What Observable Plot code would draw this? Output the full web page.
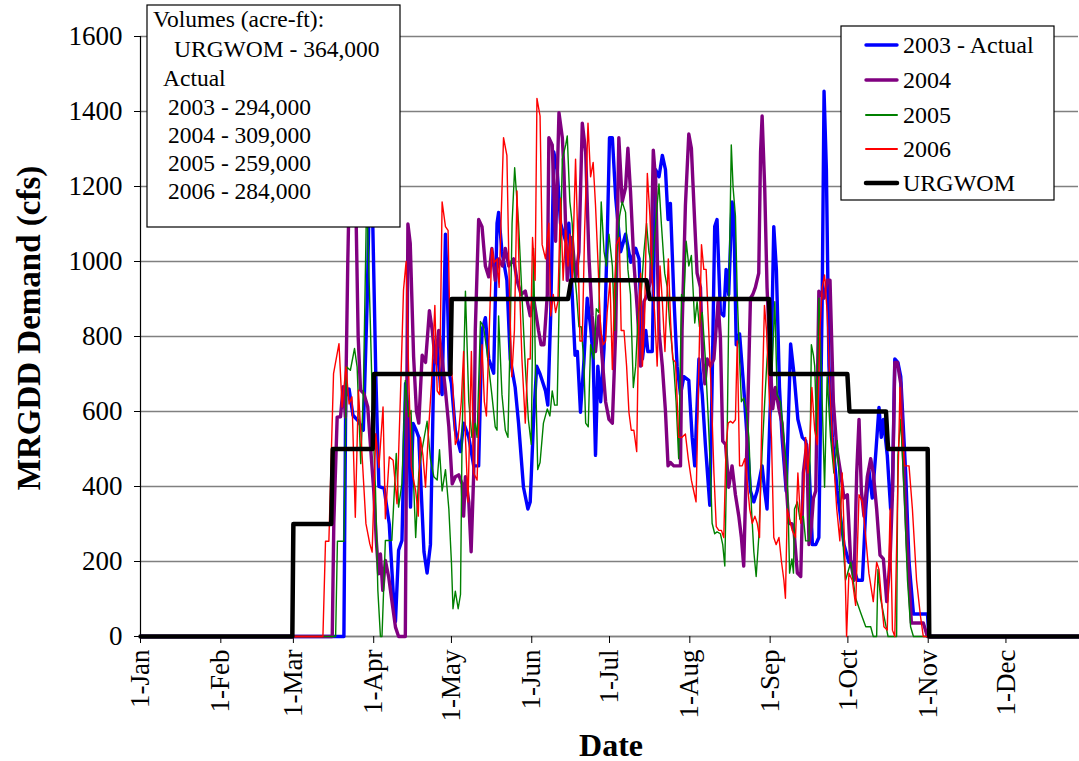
<!DOCTYPE html>
<html><head><meta charset="utf-8">
<script src="https://cdn.jsdelivr.net/npm/d3@7"></script>
<script src="https://cdn.jsdelivr.net/npm/@observablehq/plot@0.6"></script>
<style>body{margin:0;background:#fff;}</style>
</head><body><div id="chart"></div>
<script>
// ---- tick labels / categories ----
const monthDays = [0,31,59,90,120,151,181,212,243,273,304,334];
const monthLabels = ["1-Jan","1-Feb","1-Mar","1-Apr","1-May","1-Jun","1-Jul","1-Aug","1-Sep","1-Oct","1-Nov","1-Dec"];
const yTicks = [0,200,400,600,800,1000,1200,1400,1600];
const seriesNames = ["2003 - Actual","2004","2005","2006","URGWOM"];
const volumeLines = ["Volumes (acre-ft):","URGWOM - 364,000","Actual","2003 - 294,000","2004 - 309,000","2005 - 259,000","2006 - 284,000"];

// ---- series values: [day of year (0 = 1-Jan), cfs] ----
const s2003 = [[0,0],[77,0],[78.5,0],[79.2,640],[80.5,660],[82,590],[84,575],[86,550],[87.5,900],[88.5,1250],[89.5,1150],[90.8,700],[92,400],[94,395],[96,300],[97.5,120],[98.4,40],[99.6,230],[100.9,256],[102.3,675],[103.5,586],[104.2,345],[105.2,568],[106.4,550],[107.4,531],[109.4,226],[110.6,169],[111.9,245],[113.2,721],[114.5,778],[115.8,664],[116.4,645],[117.7,1073],[118.3,950],[119.2,702],[120,674],[121.5,550],[123.5,493],[124.7,569],[126.7,531],[128.6,455],[130.5,455],[131.8,816],[133.1,850],[134.4,740],[136.3,702],[137.6,1102],[138.2,1131],[139.5,1026],[141.4,950],[142.7,740],[144.6,664],[145.9,569],[147.8,398],[149.5,340],[150.4,359],[151.7,578],[152.9,721],[154.2,700],[156.3,655],[157.2,617],[158.3,855],[159.5,1292],[160.8,1245],[162.1,1102],[164.1,1054],[165.3,1102],[166.6,912],[167.7,750],[168.6,760],[169.8,598],[171.1,731],[172.4,902],[173.7,826],[174.7,740],[175.6,483],[176.5,721],[177.6,626],[178.9,769],[180.1,1054],[181,1330],[182.1,1330],[183.4,1169],[185.3,1026],[187.2,1073],[189.2,998],[191.1,1035],[192.4,1007],[193.7,740],[195,816],[195.8,760],[197.5,760],[198.8,1245],[200.1,1226],[201.4,1283],[202.6,1245],[203.6,1112],[204.5,1155],[205.8,912],[207.1,721],[208.4,645],[209.7,693],[211.6,683],[212.9,531],[213.9,455],[215.5,740],[216.8,645],[218,512],[219.7,350],[220.6,674],[221.6,1093],[222.5,1112],[223.8,864],[225.1,855],[226,979],[227,912],[228.3,1159],[229,1121],[229.9,778],[231.2,807],[232.8,664],[234.1,531],[235.4,388],[236.7,359],[238,388],[239.9,455],[240.9,388],[241.8,340],[243.1,626],[244.4,1093],[245.4,979],[246.6,664],[247.6,531],[249.2,388],[250.9,780],[252.2,700],[253.7,579],[255.4,531],[256.7,522],[258,455],[259.3,245],[260.6,245],[261.8,264],[263.1,912],[263.8,1454],[264.7,1245],[265.7,721],[267,531],[268.9,388],[271.5,245],[273.4,198],[274.7,198],[276.6,150],[278.6,150],[279.9,340],[281.1,445],[282.4,369],[283.7,483],[285,611],[285.9,531],[286.7,579],[288.2,483],[289.5,340],[290.2,388],[291.1,740],[292.3,731],[293.4,693],[295.3,436],[296.6,198],[298.3,60],[303.7,60],[304.3,0],[362,0]];

const s2004 = [[0,0],[74,0],[74.6,300],[75.9,585],[77.2,586],[78.2,666],[79.1,586],[80,1000],[81,1350],[82,1380],[83,1200],[84,800],[84.9,657],[86.2,648],[87.7,612],[88.7,514],[90,390],[91,256],[91.9,167],[92.6,220],[93.5,123],[94.5,203],[95.8,158],[97,96],[98.4,25],[99.6,0],[102.2,0],[103.2,1100],[104.1,1048],[105.4,746],[106.5,600],[107.4,569],[108.7,750],[110,731],[111.5,869],[112.6,816],[113.8,731],[115.1,816],[116.4,740],[117.7,655],[119,559],[120.3,407],[121.5,426],[122.8,431],[124.1,407],[124.7,321],[125.4,426],[126.7,359],[127.6,226],[128.6,436],[129.2,816],[130.5,1112],[131.8,1093],[133.1,988],[134.4,959],[135.6,1035],[136.9,950],[138.2,1007],[139.7,988],[140.8,1035],[142.1,988],[144,1007],[145.3,950],[146.9,912],[148.5,921],[150.4,855],[151.7,902],[153.6,816],[154.6,778],[155.7,778],[157,912],[157.6,1330],[158.9,1311],[160.2,1054],[161.5,1397],[162.8,1330],[163.4,1245],[164.7,950],[165.6,1026],[166.6,1064],[167.9,950],[169.2,1026],[170.5,1369],[171.8,1292],[173.1,1007],[174.3,855],[175.6,760],[176.9,855],[178.2,740],[179.5,626],[180.8,579],[182.1,569],[183.4,816],[184.6,1330],[185.9,1159],[187.2,1197],[188.1,1302],[189.1,1188],[190.4,998],[191.7,874],[193,721],[194.3,893],[195.6,912],[196.9,950],[197.9,1297],[198.8,1216],[200.1,816],[201.4,721],[202.6,600],[203.6,455],[204.5,464],[205.8,455],[208.4,455],[209,816],[210.3,1150],[211.6,1340],[212.6,1302],[213.9,1102],[214.8,969],[216.1,931],[217,740],[217.8,674],[218.7,740],[220,721],[221.3,740],[222.9,893],[223.8,797],[224.7,521],[225.8,512],[227,398],[228.3,455],[229.6,378],[230.9,321],[231.9,264],[232.8,188],[234.1,531],[235.4,902],[236.3,912],[237.3,931],[238.6,969],[239.3,1292],[239.9,1388],[240.9,1197],[241.8,931],[243.1,721],[244,607],[245,664],[246.4,607],[247.6,569],[248.9,436],[250.2,302],[251.5,300],[252.2,283],[253.5,169],[254.8,160],[255.8,436],[257.1,512],[258,245],[258.9,293],[259.7,369],[260.6,388],[261.8,921],[262.7,912],[263.8,902],[265,950],[266.1,950],[267.4,626],[268.7,502],[270.2,436],[271.5,369],[272.8,378],[274.1,198],[275.4,150],[276.4,436],[277.3,579],[278.2,388],[279.2,321],[280.5,426],[281.8,474],[282.8,436],[284.1,340],[285.4,217],[286.7,207],[288,93],[289.3,207],[290.2,378],[291.1,731],[292.1,731],[293.4,674],[294.7,436],[295.9,245],[297.5,36],[302.1,36],[303.7,0],[362,0]];

const s2005 = [[0,0],[75.3,0],[76,254],[78.5,254],[79.5,719],[81,710],[82.6,768],[83.6,719],[85,461],[86,650],[87.3,1180],[88.7,835],[89.7,568],[90.7,390],[91.6,123],[92.6,0],[93.2,0],[94.5,256],[97,256],[98.7,488],[99.6,345],[100.9,408],[102.2,683],[103.5,586],[104.4,603],[105.4,408],[106.2,264],[107.4,436],[108.7,500],[110.6,574],[111.9,474],[113.2,426],[114.5,417],[115.4,498],[116.4,388],[117.7,445],[119,340],[120,198],[120.6,74],[121.5,121],[122.6,74],[123.5,112],[124.1,531],[125.4,921],[126.7,626],[127.9,531],[129.2,569],[129.9,531],[131.2,840],[132.4,826],[133.7,760],[135.6,645],[136.9,559],[137.6,550],[138.2,855],[139.5,645],[140.8,550],[141.8,531],[142.7,816],[143.4,1102],[144.4,1250],[145.9,1102],[147.2,912],[148.5,721],[149.7,578],[150.8,512],[151.7,1035],[152.4,721],[153.3,445],[154.2,464],[155.5,569],[157,607],[158,588],[158.9,655],[159.8,617],[160.8,617],[161.9,1007],[162.8,1273],[164.1,1311],[164.7,1335],[165.7,1159],[166.6,1102],[167.3,988],[168.3,912],[169.2,826],[170.1,826],[171.1,731],[171.8,569],[172.8,559],[173.7,778],[175,740],[175.9,874],[176.9,864],[177.8,1159],[178.9,1026],[179.8,988],[180.8,1073],[182.1,988],[183,816],[183.7,1007],[184.9,1121],[185.9,1159],[187.2,1131],[188.1,979],[189.1,912],[190.2,664],[191.1,721],[192.1,864],[193,893],[194.3,1026],[195.3,1102],[196.2,1026],[197.5,979],[198.8,1102],[200.1,1207],[201,1102],[202.3,969],[203.3,931],[204.2,836],[205.8,721],[206.7,626],[207.7,474],[208.8,912],[209.7,893],[210.6,1054],[211.6,988],[212.6,1016],[213.9,836],[214.8,893],[215.7,826],[216.8,864],[218,740],[219,598],[220,436],[220.6,302],[221.6,274],[222.5,279],[223.8,274],[224.7,245],[225.5,188],[226.4,531],[227.3,1007],[228,1311],[228.7,1197],[229.6,1121],[230.3,912],[231.2,740],[231.9,626],[232.8,636],[233.7,607],[234.8,531],[235.8,340],[236.7,226],[237.6,160],[238.6,264],[239.9,493],[240.9,626],[241.8,740],[242.9,816],[243.8,721],[244.8,893],[245.7,645],[247,626],[248.3,531],[249.6,436],[250.5,169],[251.4,207],[252,169],[252.4,340],[253.5,359],[254.5,312],[255.8,321],[256.7,255],[258,255],[258.9,778],[259.7,750],[260.2,721],[261,531],[261.8,902],[262.7,721],[264,398],[265,693],[266.3,531],[267.6,436],[268.9,522],[270.2,340],[272.1,150],[274.1,198],[276,102],[277.9,64],[279.9,26],[281.8,26],[282.8,0],[284.1,0],[284.6,179],[285.6,102],[286.9,55],[288.5,0],[291.8,0],[292.3,483],[293.4,579],[294.7,388],[296,150],[297.2,26],[298.3,0],[362,0]];

const s2006 = [[0,0],[70.4,0],[71.4,254],[72.7,254],[73.5,452],[74.5,701],[76.6,781],[77.8,612],[79.3,719],[80.5,620],[81.6,639],[82.9,318],[84.1,657],[85.4,497],[87,301],[88.5,247],[89.4,225],[90.8,541],[92,450],[93.6,612],[94.5,314],[96,479],[97.5,470],[99,354],[100.3,639],[101.5,924],[102.5,1000],[103.5,700],[104.5,453],[105.3,420],[106.2,388],[107.2,321],[108,531],[109,483],[110,398],[111,531],[112.3,674],[113.6,883],[114.5,655],[115.4,645],[116.4,1159],[117.7,1093],[118.7,1083],[119.6,750],[120.5,674],[121.5,512],[122.6,531],[123.8,626],[124.7,760],[125.4,531],[126.4,359],[127.7,760],[128.6,436],[129.9,417],[130.8,626],[131.8,778],[132.7,626],[133.5,588],[134.6,816],[135.6,1035],[136.5,997],[137.6,1007],[138.4,931],[139.2,1121],[140.1,1330],[141.4,1283],[142.4,912],[143.3,693],[144.3,816],[145.3,1188],[146.3,931],[147.2,740],[148.5,569],[149.5,740],[150.4,740],[151.3,1064],[152.3,950],[153,1435],[154.2,1388],[155,1045],[156.3,1007],[157.6,1102],[158.3,855],[159.3,912],[160.2,864],[161.1,893],[162.1,1169],[163.1,950],[164.1,1083],[165,988],[165.7,1073],[166.6,950],[167.9,1273],[168.8,1054],[169.6,788],[170.5,788],[171.4,1083],[172.7,1369],[173.7,1226],[174.7,1264],[175.6,1150],[176.5,1007],[177.6,816],[178.6,778],[179.5,788],[180.1,864],[181.2,950],[182.1,712],[183,940],[183.7,1045],[184.8,1064],[185.5,816],[186.6,816],[187.6,721],[188.5,598],[189.4,550],[190.4,550],[191.5,493],[192.4,893],[193,969],[193.7,721],[194.5,836],[195.6,1235],[196.6,1121],[197.5,959],[198.4,864],[199.4,721],[200.5,988],[201.4,893],[202.4,760],[203.7,1007],[204.6,836],[205.4,740],[206.5,731],[207.7,531],[208.9,531],[210.3,540],[211.4,474],[212.6,417],[213.5,388],[214.4,359],[215.5,721],[216.5,1045],[217.4,979],[218.3,979],[219.3,816],[220.4,626],[221.3,436],[222.2,293],[223.2,283],[224.2,283],[225.1,264],[226,512],[226.8,569],[227.7,574],[228.6,569],[229.6,578],[230.3,788],[231.2,455],[232.2,455],[233.2,474],[234.1,417],[235.1,340],[236.1,302],[237.1,321],[238,302],[238.9,264],[239.9,626],[240.8,883],[241.6,816],[242.5,664],[243.5,531],[244.4,264],[245.3,245],[246.4,264],[247.4,198],[248.3,150],[248.9,102],[249.6,340],[250.5,312],[251.5,283],[252.8,264],[253.7,436],[254.8,302],[255.8,378],[256.7,531],[257.6,436],[258.4,531],[259.1,664],[260.2,550],[261.2,512],[262.2,816],[263.1,931],[264,964],[265,864],[266.1,655],[267.4,483],[268.7,340],[269.9,255],[270.8,436],[271.7,245],[272.5,0],[273.4,169],[274.7,150],[276,83],[277.3,378],[278.6,359],[279.9,264],[281.1,169],[282.8,93],[284.1,198],[285,179],[285.9,102],[286.9,26],[288.2,17],[289.3,340],[290.2,17],[291.1,0],[292.1,340],[293.1,664],[294,531],[294.9,455],[296.6,455],[297.9,340],[299.5,150],[301,55],[302.1,0],[362,0]];

const urgwom = [[0,0],[58.6,0],[59,300],[73.6,300],[74.2,500],[89.6,500],[90.1,700],[119.6,700],[120.1,900],[165,900],[166.2,950],[195.3,950],[196.5,900],[242.6,900],[243.2,700],[272.8,700],[273.6,600],[287.7,600],[288.5,500],[303.8,500],[304.4,0],[362,0]];

const rows = (arr) => arr.map(([day, value]) => ({day, value}));

const styles = [
  {stroke: "#0000ff", width: 3.4},
  {stroke: "#800080", width: 3.4},
  {stroke: "#008000", width: 1.4},
  {stroke: "#ff0000", width: 1.4},
  {stroke: "#000000", width: 4.5}
];
const allSeries = [s2003, s2004, s2005, s2006, urgwom];

const font = "Liberation Serif";

const chart = Plot.plot({
  width: 1079,
  height: 761,
  marginLeft: 140,
  marginRight: 1,
  marginTop: 36,
  marginBottom: 125,
  style: {fontFamily: font, fontSize: "26px", background: "#fff", color: "#000", overflow: "visible"},
  x: {domain: [0, 362]},
  y: {domain: [0, 1600]},
  marks: [
    Plot.gridY(yTicks, {stroke: "#808080", strokeOpacity: 1, strokeWidth: 1.4}),
    Plot.ruleY([0], {stroke: "#808080", strokeWidth: 1.4}),
    Plot.axisY(yTicks, {tickSize: 6, tickPadding: 12, label: null, fontSize: 27, tickFormat: d => String(d)}),
    Plot.axisX(monthDays, {tickFormat: d => monthLabels[monthDays.indexOf(d)], tickRotate: -90, tickSize: 7, tickPadding: 6, label: null, fontSize: 27}),
    Plot.ruleX([0], {stroke: "#000", strokeWidth: 1.2}),
    ...allSeries.map((s, i) => Plot.line(rows(s), {x: "day", y: "value", stroke: styles[i].stroke, strokeWidth: styles[i].width, strokeLinejoin: "round"}))
  ]
});
document.getElementById("chart").appendChild(chart);

const svg = d3.select(chart);

// axis titles
svg.append("text")
  .attr("transform", "translate(40,328) rotate(-90)")
  .attr("text-anchor", "middle")
  .style("font-weight", "bold").style("font-size", "33px")
  .text("MRGDD Demand (cfs)");
svg.append("text")
  .attr("x", 611).attr("y", 756)
  .attr("text-anchor", "middle")
  .style("font-weight", "bold").style("font-size", "32px")
  .text("Date");

// volumes box
const vb = svg.append("g").attr("text-anchor", "start");
vb.append("rect").attr("x", 147).attr("y", 5).attr("width", 253).attr("height", 222)
  .attr("fill", "#fff").attr("stroke", "#000").attr("stroke-width", 1.2);
const vX = [153, 174, 163, 168, 168, 168, 168];
const vY = [27, 57, 86, 115, 143, 171, 199];
volumeLines.forEach((t, i) => {
  vb.append("text").attr("x", vX[i]).attr("y", vY[i]).attr("text-anchor", "start")
    .style("font-size", "23.5px").text(t);
});

// legend box
const lg = svg.append("g").attr("text-anchor", "start");
lg.append("rect").attr("x", 841).attr("y", 26).attr("width", 213).attr("height", 174)
  .attr("fill", "#fff").attr("stroke", "#000").attr("stroke-width", 1.2);
const lY = [45, 80, 115, 149, 183];
seriesNames.forEach((name, i) => {
  lg.append("line").attr("x1", 866).attr("x2", 897).attr("y1", lY[i]).attr("y2", lY[i])
    .attr("stroke", styles[i].stroke).attr("stroke-width", Math.max(styles[i].width, 2)).attr("stroke-linecap", "round");
  lg.append("text").attr("x", 903).attr("y", lY[i] + 8).attr("text-anchor", "start")
    .style("font-size", "24px").text(name);
});

// force the serif face on every text (inline style wins over Plot's sheet)
svg.selectAll("text").style("font-family", "'Liberation Serif', 'Times New Roman', serif");
svg.style("font-family", "'Liberation Serif', 'Times New Roman', serif");
</script>
</body></html>
